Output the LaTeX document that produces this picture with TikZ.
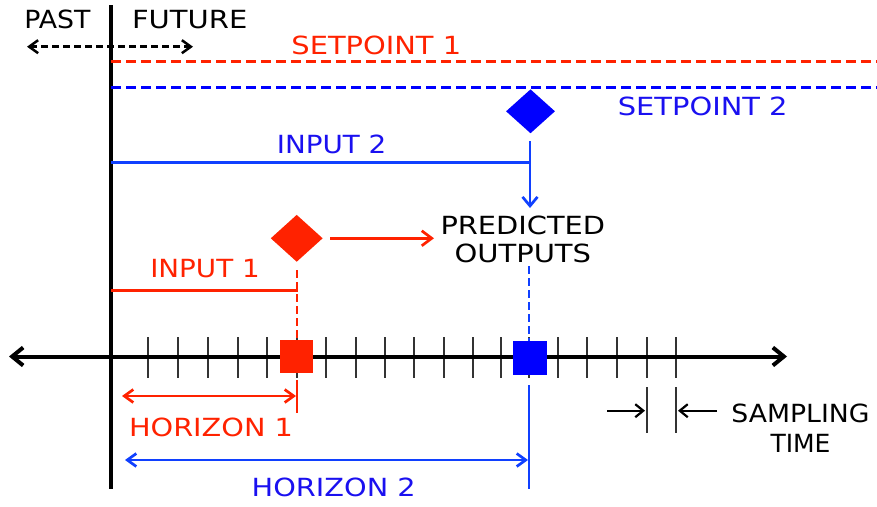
\documentclass[tikz,border=0pt]{standalone}
\usepackage{fontspec}
\usepackage{graphicx}
\newfontfamily\dej{DejaVu Sans}
\usetikzlibrary{arrows.meta,shapes.geometric}
\definecolor{myred}{HTML}{FF2200}
\definecolor{myblue}{HTML}{0000FF}
\definecolor{mybline}{HTML}{1040FF}
\definecolor{myblt}{HTML}{1A10F0}
\definecolor{tickgray}{HTML}{333333}
\newcommand\sx[2]{\scalebox{#1}[1]{#2}}
\begin{document}
\begin{tikzpicture}[x=1pt,y=-1pt,
  lbl/.style={font=\dej\fontsize{25}{28.3}\selectfont, inner sep=0pt, anchor=base},
  thickblack/.style={line width=4pt, black},
  tickline/.style={line width=1.8pt, tickgray},
  redline/.style={line width=2.7pt, myred},
  blueline/.style={line width=2.7pt, mybline},
  spdash/.style={dash pattern=on 10pt off 5pt},
  vdash/.style={dash pattern=on 8pt off 4pt},
  sqnode/.style={rectangle, minimum size=33pt, inner sep=0pt, draw=none},
  dmnode/.style={diamond, inner sep=0pt, draw=none}
]
\useasboundingbox (0,0) rectangle (877,506);

% ticks
\foreach \x in {148,178,208,238,267,297,326,356,385,414,444,473,501,529,558,587,617,647,676}
  \draw[tickline] (\x,337) -- (\x,378);

% main vertical line and axis
\coordinate (vtop) at (111,5);
\coordinate (vbot) at (111,489);
\draw[thickblack] (vtop) -- (vbot);
\coordinate (axL) at (9,356.5);
\coordinate (axR) at (787,356.5);
\draw[thickblack, {Straight Barb[length=11pt,width=18pt]}-{Straight Barb[length=11pt,width=18pt]}] (axL) -- (axR);

% past / future
\node[lbl] (past) at (57.5,28.3) {\sx{1.07}{PAST}};
\node[lbl] (future) at (189.7,28.3) {\sx{1.16}{FUTURE}};
\coordinate (pfL) at (27,46.7);
\coordinate (pfR) at (193,46.7);
\draw[line width=2.5pt, black, dash pattern=on 7pt off 4pt, {Straight Barb[length=9pt,width=13pt]}-{Straight Barb[length=9pt,width=13pt]}] (pfL) -- (pfR);

% setpoints
\coordinate (sp1s) at (111,61);
\coordinate (sp1e) at (877,61);
\draw[redline, line width=3pt, spdash] (sp1s) -- (sp1e);
\node[lbl, myred] (sp1) at (376.3,54) {\sx{1.156}{SETPOINT 1}};
\coordinate (sp2s) at (111,87.3);
\coordinate (sp2e) at (877,87.3);
\draw[blueline, line width=3pt, myblue, spdash] (sp2s) -- (sp2e);
\node[lbl, myblt] (sp2) at (702.7,115) {\sx{1.156}{SETPOINT 2}};

% diamonds and squares
\node[dmnode, fill=myblue, minimum width=49pt, minimum height=44pt] (d2) at (530.5,111.3) {};
\node[dmnode, fill=myred, minimum width=52pt, minimum height=47pt] (d1) at (296.7,238.3) {};
\node[sqnode, fill=myred] (sq1) at (296,356.7) {};
\node[sqnode, fill=myblue, minimum size=34pt] (sq2) at (530,358.3) {};

% input 2
\node[lbl, myblt] (in2) at (331.7,153.3) {\sx{1.11}{INPUT 2}};
\coordinate (in2s) at (111,162.7);
\coordinate (in2e) at (530,162.7);
\draw[blueline] (in2s) -- (in2e);
\coordinate (b2s) at (530,141);
\coordinate (b2e) at (530,208);
\draw[blueline, -{Straight Barb[length=9pt,width=15pt]}] (b2s) -- (b2e);

% predicted outputs
\node[lbl, anchor=center, align=center] (po) at (522.8,239.3)
  {\sx{1.154}{PREDICTED}\\\sx{1.16}{OUTPUTS}};
\coordinate (r1s) at (330,238.3);
\coordinate (r1e) at (434,238.3);
\draw[redline, -{Straight Barb[length=10pt,width=15pt]}] (r1s) -- (r1e);

% input 1
\node[lbl, myred] (in1) at (205,277.5) {\sx{1.11}{INPUT 1}};
\coordinate (in1s) at (111,290.5);
\coordinate (in1c) at (297,290.5);
\coordinate (in1t) at (297,282);
\coordinate (r1top) at (297,270);
\draw[redline] (in1s) -- (in1c) -- (in1t);
\draw[redline, vdash] (r1top) -- (sq1.north -| r1top);

% blue dashed from outputs to square
\coordinate (b2d) at (529,266);
\draw[blueline, vdash] (b2d) -- (sq2.north -| b2d);

% horizon 1
\coordinate (h1v1) at (297,380);
\coordinate (h1v2) at (297,413);
\draw[redline] (h1v1) -- (h1v2);
\coordinate (h1L) at (122,396);
\coordinate (h1R) at (296,396);
\draw[redline, {Straight Barb[length=9pt,width=13pt]}-{Straight Barb[length=9pt,width=13pt]}] (h1L) -- (h1R);
\node[lbl, myred] (hz1) at (211,436) {\sx{1.15}{HORIZON 1}};

% horizon 2
\coordinate (h2v1) at (529,385);
\coordinate (h2v2) at (529,489);
\draw[blueline] (h2v1) -- (h2v2);
\coordinate (h2L) at (125,460);
\coordinate (h2R) at (528,460);
\draw[blueline, {Straight Barb[length=9pt,width=13pt]}-{Straight Barb[length=9pt,width=13pt]}] (h2L) -- (h2R);
\node[lbl, myblt] (hz2) at (333.7,496.7) {\sx{1.15}{HORIZON 2}};

% sampling time
\coordinate (st1a) at (647,387);
\coordinate (st1b) at (647,433);
\coordinate (st2a) at (676,387);
\coordinate (st2b) at (676,433);
\draw[tickline] (st1a) -- (st1b);
\draw[tickline] (st2a) -- (st2b);
\coordinate (sa1s) at (607,410.7);
\coordinate (sa1e) at (645,410.7);
\coordinate (sa2s) at (717,410.7);
\coordinate (sa2e) at (678,410.7);
\draw[line width=2.2pt, black, -{Straight Barb[length=8pt,width=13pt]}] (sa1s) -- (sa1e);
\draw[line width=2.2pt, black, -{Straight Barb[length=8pt,width=13pt]}] (sa2s) -- (sa2e);
\node[lbl, anchor=center, align=center, font=\dej\fontsize{25}{30.6}\selectfont] (st) at (800.5,428.3)
  {\sx{1.067}{SAMPLING}\\\sx{1.0}{TIME}};
\end{tikzpicture}
\end{document}
